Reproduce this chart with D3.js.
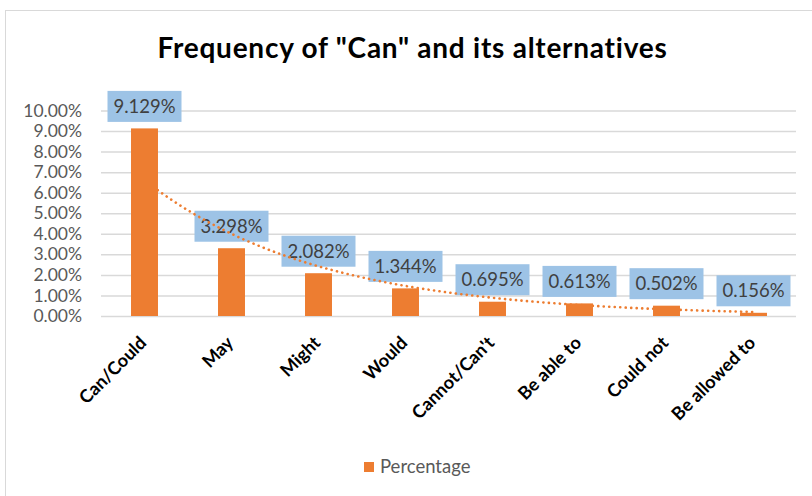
<!DOCTYPE html>
<html>
<head>
<meta charset="utf-8">
<script src="https://cdnjs.cloudflare.com/ajax/libs/d3/7.8.5/d3.min.js"></script>
<style>
  html, body { margin: 0; padding: 0; background: #fff; }
  svg { display: block; font-family: Lato, "Open Sans", sans-serif; }
</style>
</head>
<body>
<svg id="chart" width="812" height="496"></svg>
<script>
// Modal verbs and their share of all tokens (%)
const categories = ["Can/Could", "May", "Might", "Would", "Cannot/Can't", "Be able to", "Could not", "Be allowed to"];
const percentages = [9.129, 3.298, 2.082, 1.344, 0.695, 0.613, 0.502, 0.156];
const valueLabels = ["9.129%", "3.298%", "2.082%", "1.344%", "0.695%", "0.613%", "0.502%", "0.156%"];
const tickValues = [0, 1, 2, 3, 4, 5, 6, 7, 8, 9, 10];
const tickLabels = ["0.00%", "1.00%", "2.00%", "3.00%", "4.00%", "5.00%", "6.00%", "7.00%", "8.00%", "9.00%", "10.00%"];
const seriesName = "Percentage";
const chartTitle = 'Frequency of "Can" and its alternatives';

const BAR = "#ED7D31", LABEL_BG = "#9DC3E6", GRID = "#D9D9D9";

const svg = d3.select("#chart");

// outer chart frame
svg.append("rect")
  .attr("x", 5.5).attr("y", 10.5)
  .attr("width", 830).attr("height", 500)
  .attr("fill", "#fff").attr("stroke", "#D9D9D9").attr("stroke-width", 1);

const plot = { left: 101, right: 797, top: 110.5, bottom: 316 };

const x = d3.scaleBand()
  .domain(categories)
  .range([plot.left, plot.right])
  .paddingInner(0.69)
  .paddingOuter(0.345);

const y = d3.scaleLinear()
  .domain([0, 10])
  .range([plot.bottom, plot.top]);

// title
svg.append("text")
  .attr("x", 412.5).attr("y", 58)
  .attr("text-anchor", "middle")
  .attr("font-weight", 700)
  .attr("font-size", 28)
  .attr("letter-spacing", 0.75)
  .attr("fill", "#000")
  .text(chartTitle);

// y axis: gridlines + tick labels, no domain line
const yAxis = d3.axisLeft(y)
  .tickValues(tickValues)
  .tickFormat((d, i) => tickLabels[i])
  .tickSize(-(plot.right - plot.left - 1))
  .tickPadding(19);

const gy = svg.append("g")
  .attr("transform", `translate(${plot.left},0)`)
  .call(yAxis);
gy.select(".domain").remove();
gy.selectAll(".tick line").attr("stroke", GRID).attr("stroke-width", 1.5);
gy.selectAll(".tick text")
  .attr("font-size", 17.5)
  .attr("font-family", "Lato, sans-serif")
  .attr("fill", "#595959");

// x axis labels, rotated
const xAxis = d3.axisBottom(x).tickSize(0).tickPadding(0);
const gx = svg.append("g")
  .attr("transform", `translate(0,${plot.bottom})`)
  .call(xAxis);
gx.select(".domain").remove();
gx.selectAll(".tick text")
  .attr("font-size", 18)
  .attr("font-weight", 700)
  .attr("font-family", "Lato, sans-serif")
  .attr("fill", "#000")
  .attr("text-anchor", "end")
  .attr("y", 0)
  .attr("dy", 0)
  .attr("transform", "translate(3,28) rotate(-45)");

// data labels (boxes behind the trendline)
const cx = d => x(d) + x.bandwidth() / 2;
const labelW = 74, labelH = 31, labelGap = 6.5;
const labels = svg.append("g").selectAll("g")
  .data(categories)
  .join("g")
  .attr("transform", (d, i) => `translate(${cx(d)},${y(percentages[i]) - labelGap - labelH})`);
labels.append("rect")
  .attr("x", -labelW / 2).attr("y", 0)
  .attr("width", labelW).attr("height", labelH)
  .attr("fill", LABEL_BG);
labels.append("text")
  .attr("x", 0).attr("y", labelH / 2)
  .attr("dy", "0.36em")
  .attr("text-anchor", "middle")
  .attr("font-size", 18.5)
  .attr("fill", "#404040")
  .text((d, i) => valueLabels[i]);

// exponential trendline (least squares on ln(value) vs category index)
const n = percentages.length;
const xs = d3.range(1, n + 1);
const lys = percentages.map(Math.log);
const mx = d3.mean(xs), my = d3.mean(lys);
const slope = d3.sum(xs, (v, i) => (v - mx) * (lys[i] - my)) / d3.sum(xs, v => (v - mx) ** 2);
const intercept = my - slope * mx;
const xi = d3.scaleLinear().domain([1, n]).range([cx(categories[0]), cx(categories[n - 1])]);
const trendPts = d3.range(1, n + 0.001, 0.05).map(t => [xi(t), y(Math.exp(intercept + slope * t))]);

svg.append("path")
  .attr("d", d3.line()(trendPts))
  .attr("fill", "none")
  .attr("stroke", BAR)
  .attr("stroke-width", 2.6)
  .attr("stroke-linecap", "round")
  .attr("stroke-dasharray", "0.1 5.4");

// bars
svg.append("g").selectAll("rect")
  .data(categories)
  .join("rect")
  .attr("x", d => x(d))
  .attr("width", x.bandwidth())
  .attr("y", (d, i) => y(percentages[i]))
  .attr("height", (d, i) => plot.bottom - y(percentages[i]))
  .attr("fill", BAR);

// legend
const legend = svg.append("g").attr("transform", "translate(364,467)");
legend.append("rect")
  .attr("x", 0).attr("y", -5).attr("width", 10).attr("height", 10)
  .attr("fill", BAR);
legend.append("text")
  .attr("x", 16).attr("y", 0).attr("dy", "0.35em")
  .attr("font-size", 18.5)
  .attr("fill", "#595959")
  .text(seriesName);
</script>
</body>
</html>
